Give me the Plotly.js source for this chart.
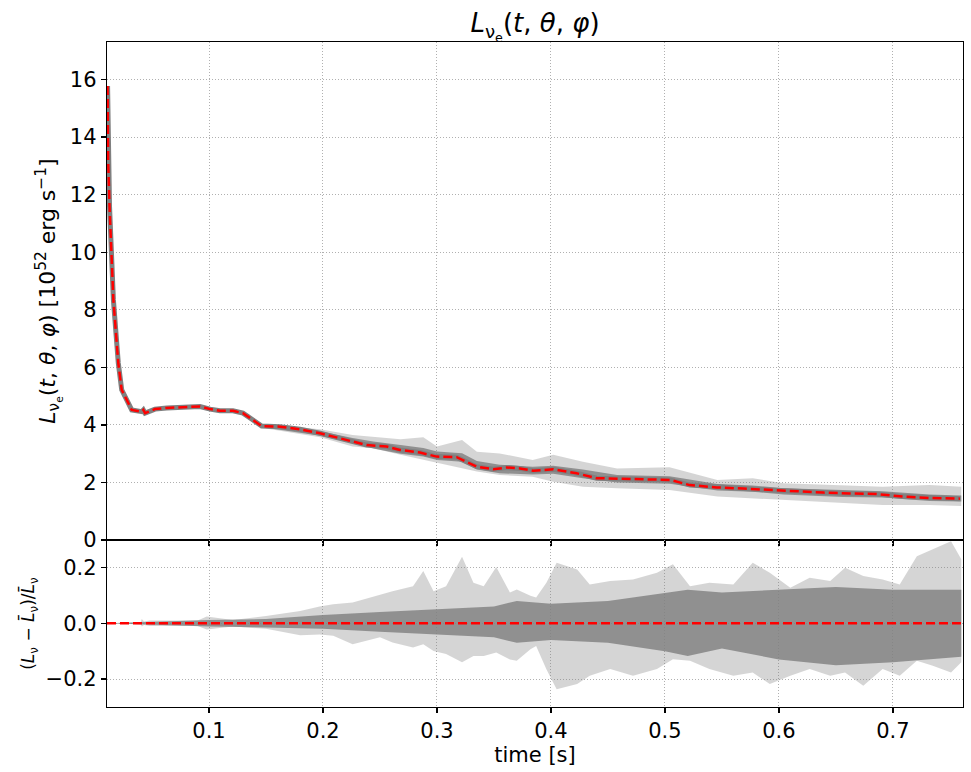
<!DOCTYPE html>
<html>
<head>
<meta charset="utf-8">
<script src="https://cdn.plot.ly/plotly-3.0.1.min.js"></script>
<style>html,body{margin:0;padding:0;background:#fff;}#chart{width:971px;height:772px;}</style>
</head>
<body>
<div id="chart"></div>
<script>
// Mean luminosity (red dashed), top panel
const meanT = [0.0110,0.0115,0.0127,0.0161,0.0204,0.0234,0.0278,0.0322,0.0410,0.0424,0.0439,0.0526,0.0629,0.0775,0.0921,0.1009,0.1096,0.1210,0.1298,0.1386,0.1462,0.1623,0.1798,0.1974,0.2088,0.2208,0.2383,0.2559,0.2675,0.2851,0.2997,0.3173,0.3261,0.3348,0.3494,0.3611,0.3728,0.3845,0.4020,0.4225,0.4401,0.4634,0.4868,0.5044,0.5219,0.5454,0.5687,0.5921,0.6155,0.6389,0.6623,0.6857,0.7090,0.7325,0.7588];
const meanL = [15.77,13.2,11.6,8.35,6.15,5.22,4.87,4.52,4.46,4.52,4.41,4.55,4.59,4.61,4.64,4.55,4.49,4.49,4.41,4.17,3.96,3.94,3.85,3.71,3.59,3.48,3.30,3.25,3.13,3.04,2.90,2.88,2.72,2.55,2.46,2.52,2.49,2.41,2.46,2.32,2.15,2.13,2.09,2.09,1.91,1.83,1.79,1.74,1.68,1.65,1.62,1.60,1.51,1.46,1.44];

// Spread of the directional curves, top panel (outer envelope and dense core)
const envT   = [0.150,0.1974,0.226,0.244,0.268,0.288,0.300,0.322,0.335,0.355,0.384,0.402,0.428,0.458,0.504,0.546,0.577,0.604,0.656,0.691,0.732,0.760];
const envHi  = [4.02,3.85,3.65,3.59,3.50,3.57,3.25,3.48,3.07,3.01,2.78,2.96,2.72,2.49,2.53,2.09,2.15,1.97,1.91,1.85,1.91,1.85];
const envLo  = [3.88,3.57,3.25,3.19,2.96,2.78,2.67,2.49,2.38,2.26,2.20,2.03,1.85,1.80,1.74,1.51,1.45,1.39,1.28,1.22,1.22,1.18];
const coreHi = [3.98,3.78,3.55,3.42,3.30,3.20,3.08,3.02,2.75,2.62,2.55,2.58,2.45,2.26,2.22,1.95,1.90,1.80,1.74,1.70,1.58,1.55];
const coreLo = [3.90,3.62,3.38,3.18,3.00,2.90,2.78,2.72,2.45,2.32,2.28,2.30,2.15,2.00,1.96,1.72,1.68,1.58,1.50,1.48,1.36,1.34];

// Relative deviation spread, bottom panel
const devT  = [0.011,0.040,0.041,0.043,0.048,0.090,0.098,0.121,0.150,0.180,0.197,0.209,0.226,0.250,0.261,0.279,0.288,0.297,0.308,0.322,0.332,0.341,0.352,0.364,0.370,0.382,0.387,0.396,0.405,0.423,0.434,0.452,0.472,0.493,0.507,0.522,0.539,0.560,0.577,0.592,0.610,0.627,0.645,0.658,0.674,0.691,0.706,0.721,0.735,0.751,0.760];
const devHi = [0,0.003,0.015,0.006,0.010,0.010,0.024,0.012,0.026,0.044,0.060,0.068,0.074,0.104,0.115,0.133,0.187,0.115,0.133,0.238,0.145,0.133,0.202,0.110,0.121,0.099,0.092,0.145,0.217,0.193,0.139,0.151,0.157,0.181,0.211,0.133,0.145,0.139,0.217,0.181,0.127,0.163,0.151,0.199,0.169,0.157,0.139,0.240,0.264,0.294,0.229];
const devLo = [0,-0.003,-0.012,-0.006,-0.010,-0.010,-0.022,-0.012,-0.020,-0.043,-0.040,-0.045,-0.075,-0.050,-0.069,-0.087,-0.075,-0.099,-0.110,-0.140,-0.117,-0.117,-0.105,-0.130,-0.134,-0.093,-0.081,-0.165,-0.236,-0.218,-0.188,-0.164,-0.188,-0.164,-0.129,-0.134,-0.164,-0.188,-0.176,-0.218,-0.188,-0.164,-0.188,-0.176,-0.224,-0.164,-0.188,-0.134,-0.152,-0.176,-0.140];
const devCoreT  = [0.011,0.100,0.150,0.200,0.250,0.300,0.350,0.370,0.400,0.450,0.500,0.520,0.550,0.600,0.650,0.700,0.760];
const devCoreHi = [0,0.012,0.015,0.030,0.040,0.050,0.060,0.080,0.070,0.080,0.110,0.120,0.110,0.120,0.130,0.120,0.120];
const devCoreLo = [0,-0.012,-0.015,-0.020,-0.030,-0.040,-0.050,-0.070,-0.060,-0.070,-0.100,-0.117,-0.090,-0.130,-0.150,-0.140,-0.120];
const devZeroT = [0.0105, 0.765];
const devZero  = [0, 0];

const xTicks = [0.1,0.2,0.3,0.4,0.5,0.6,0.7];
const yTicksTop = [0,2,4,6,8,10,12,14,16];
const yTicksBot = [-0.2,0.0,0.2];

const GRAY_LIGHT = 'rgba(128,128,128,0.33)';
const GRAY_DARK = 'rgba(128,128,128,0.82)';
const none = {width:0, color:'rgba(0,0,0,0)'};

const traces = [
  {x:envT, y:envLo, xaxis:'x', yaxis:'y', mode:'lines', line:none, hoverinfo:'skip'},
  {x:envT, y:envHi, xaxis:'x', yaxis:'y', mode:'lines', line:none, fill:'tonexty', fillcolor:GRAY_LIGHT, hoverinfo:'skip'},
  {x:envT, y:coreLo, xaxis:'x', yaxis:'y', mode:'lines', line:none, hoverinfo:'skip'},
  {x:envT, y:coreHi, xaxis:'x', yaxis:'y', mode:'lines', line:none, fill:'tonexty', fillcolor:GRAY_DARK, hoverinfo:'skip'},
  {x:meanT, y:meanL, xaxis:'x', yaxis:'y', mode:'lines', line:{color:'#808080', width:5}, hoverinfo:'skip'},
  {x:meanT, y:meanL, xaxis:'x', yaxis:'y', mode:'lines', line:{color:'red', width:2.5, dash:'9px,4px'}},

  {x:devT, y:devLo, xaxis:'x2', yaxis:'y2', mode:'lines', line:none, hoverinfo:'skip'},
  {x:devT, y:devHi, xaxis:'x2', yaxis:'y2', mode:'lines', line:none, fill:'tonexty', fillcolor:GRAY_LIGHT, hoverinfo:'skip'},
  {x:devCoreT, y:devCoreLo, xaxis:'x2', yaxis:'y2', mode:'lines', line:none, hoverinfo:'skip'},
  {x:devCoreT, y:devCoreHi, xaxis:'x2', yaxis:'y2', mode:'lines', line:none, fill:'tonexty', fillcolor:GRAY_DARK, hoverinfo:'skip'},
  {x:devZeroT, y:devZero, xaxis:'x2', yaxis:'y2', mode:'lines', line:{color:'red', width:2.5, dash:'9px,4px'}}
];

const FONT = 'DejaVu Sans';
const axBase = {
  showline:true, linecolor:'black', linewidth:1.2, mirror:true,
  ticks:'outside', ticklen:5, tickwidth:1.2, tickcolor:'black',
  showgrid:true, gridcolor:'#b0b0b0', griddash:'1px,2px', gridwidth:1,
  zeroline:false, tickfont:{family:FONT, size:21, color:'black'}
};

const layout = {
  width:971, height:772,
  margin:{l:107, r:8, t:42, b:65},
  paper_bgcolor:'white', plot_bgcolor:'white',
  showlegend:false,
  font:{family:FONT, color:'black'},
  title:{text:'<i>L</i><sub>ν<sub>e</sub></sub>(<i>t</i>, <i>θ</i>, <i>φ</i>)', font:{family:FONT, size:26, color:'black'},
         x:0.5, xref:'paper', xanchor:'center', y:0.97, yref:'container', yanchor:'middle'},
  xaxis: Object.assign({}, axBase, {domain:[0,1], anchor:'y', range:[0.0105,0.7615], tickvals:xTicks, showticklabels:false, matches:'x2'}),
  yaxis: Object.assign({}, axBase, {domain:[0.251,1], anchor:'x', range:[0,17.3], tickvals:yTicksTop,
          title:{text:'<i>L</i><sub>ν<sub>e</sub></sub>(<i>t</i>, <i>θ</i>, <i>φ</i>) [10<sup>52</sup> erg s<sup>−1</sup>]', font:{family:FONT, size:22, color:'black'}, standoff:8}}),
  xaxis2: Object.assign({}, axBase, {domain:[0,1], anchor:'y2', range:[0.0105,0.7615], tickvals:xTicks, tickformat:'.1f',
          title:{text:'time [s]', font:{family:FONT, size:21, color:'black'}, standoff:2}}),
  yaxis2: Object.assign({}, axBase, {domain:[0,0.251], anchor:'x2', range:[-0.3,0.298], tickvals:yTicksBot, tickformat:'.1f',
          title:{text:'(<i>L</i><sub>ν</sub> − <i>L̄</i><sub>ν</sub>)/<i>L̄</i><sub>ν</sub>', font:{family:FONT, size:17, color:'black'}, standoff:6}})
};

Plotly.newPlot('chart', traces, layout, {staticPlot:true, displayModeBar:false});
</script>
</body>
</html>
